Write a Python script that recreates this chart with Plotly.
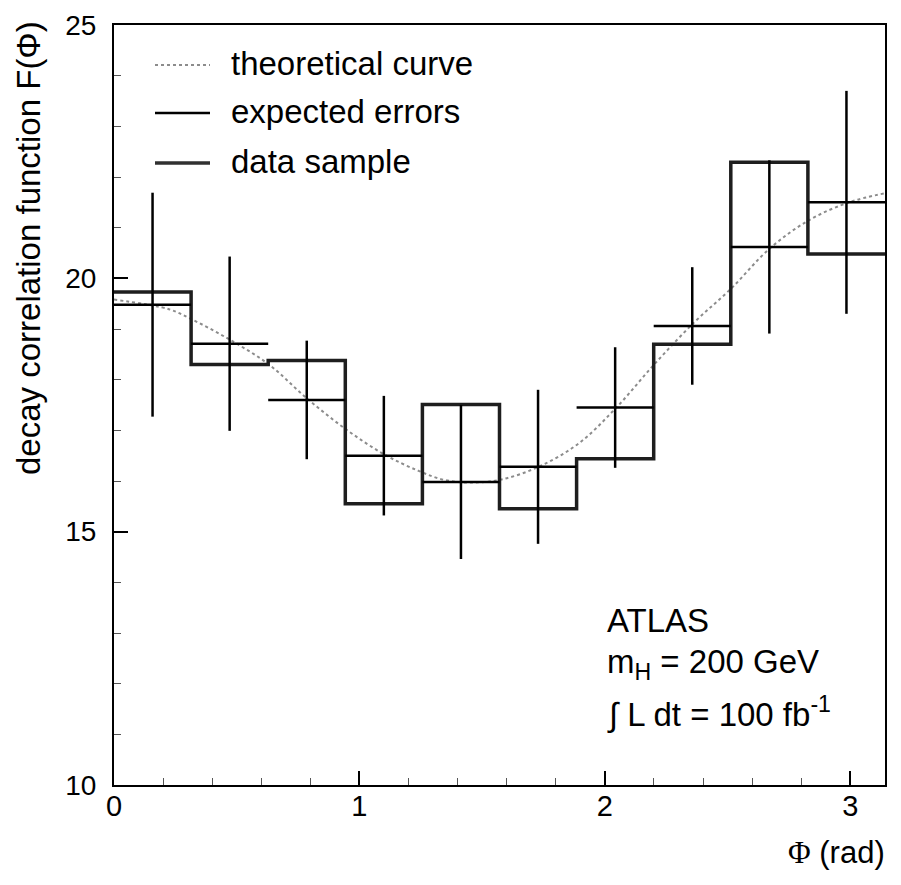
import numpy as np
import plotly.graph_objects as go

# ---------------- data ----------------
n_bins = 10
bin_edges = np.linspace(0, np.pi, n_bins + 1)
bin_centers = 0.5 * (bin_edges[:-1] + bin_edges[1:])
bin_half_width = 0.5 * (bin_edges[1] - bin_edges[0])

# data sample histogram (step)
data_sample = [19.73, 18.30, 18.38, 15.55, 17.51, 15.45, 16.44, 18.70, 22.29, 20.48]

# expected values per bin with expected errors
expected_values = [19.48, 18.71, 17.60, 16.50, 15.98, 16.28, 17.45, 19.06, 20.62, 21.50]
expected_errors = [2.21, 1.72, 1.17, 1.18, 1.52, 1.52, 1.19, 1.16, 1.71, 2.20]

# theoretical curve points
theory_x = [0.0, 0.224, 0.309, 0.468, 0.631, 0.786, 0.948, 1.103, 1.241, 1.347,
            1.457, 1.579, 1.730, 1.893, 2.047, 2.201, 2.364, 2.515, 2.670, 2.829,
            2.995, 3.1416]
theory_y = [19.58, 19.39, 19.21, 18.80, 18.30, 17.63, 17.01, 16.52, 16.20, 16.02,
            15.97, 16.03, 16.28, 16.74, 17.45, 18.30, 19.13, 19.80, 20.58, 21.14,
            21.50, 21.68]

x_ticks = [0, 1, 2, 3]
y_ticks = [10, 15, 20, 25]

legend_labels = ["theoretical curve", "expected errors", "data sample"]

# ---------------- figure ----------------
fig = go.Figure()

fig.add_trace(go.Scatter(
    x=theory_x, y=theory_y, mode="lines",
    line=dict(color="#8c8c8c", width=2, dash="dot", shape="spline", smoothing=1.0),
    name=legend_labels[0], showlegend=False, hoverinfo="skip"))

step_x = list(bin_edges)
step_y = list(data_sample) + [data_sample[-1]]
fig.add_trace(go.Scatter(
    x=step_x, y=step_y, mode="lines",
    line=dict(color="#1e1e1e", width=3.5, shape="hv"),
    name=legend_labels[2], showlegend=False, hoverinfo="skip"))

fig.add_trace(go.Scatter(
    x=list(bin_centers), y=expected_values, mode="markers",
    marker=dict(size=2, color="black"),
    error_x=dict(type="constant", value=bin_half_width, width=0, thickness=2.5, color="black"),
    error_y=dict(type="data", array=expected_errors, width=0, thickness=2.5, color="black"),
    name=legend_labels[1], showlegend=False, hoverinfo="skip"))

# ---------------- layout geometry (window pixels) ----------------
BODY = 8  # default page margin of the html body
WIN_W, WIN_H = 901, 885
PL, PR, PT, PB = 114, 885, 25, 785
W, H = PR - PL, PB - PT

def px_to_paper_x(px):
    return (px - PL) / W

def px_to_paper_y(py):
    return (PB - py) / H

legend_rows = [65, 113, 163]
legend_styles = [
    dict(color="#8c8c8c", width=2, dash="dot"),
    dict(color="black", width=2.5),
    dict(color="#303030", width=3.5),
]
shapes = []
annotations = []
for row, label, sty in zip(legend_rows, legend_labels, legend_styles):
    shapes.append(dict(type="line", xref="paper", yref="paper",
                       x0=px_to_paper_x(155), x1=px_to_paper_x(210),
                       y0=px_to_paper_y(row), y1=px_to_paper_y(row),
                       line=sty))
    annotations.append(dict(xref="paper", yref="paper",
                            x=px_to_paper_x(229), y=px_to_paper_y(row - 2),
                            xanchor="left", yanchor="middle", showarrow=False,
                            text=label, font=dict(size=33, color="black")))

atlas_lines = ["ATLAS", "m<sub>H</sub> = 200 GeV", "∫ L dt = 100 fb<sup>-1</sup>"]
atlas_rows = [620, 664, 712]
for row, txt in zip(atlas_rows, atlas_lines):
    annotations.append(dict(xref="paper", yref="paper",
                            x=px_to_paper_x(605), y=px_to_paper_y(row),
                            xanchor="left", yanchor="middle", showarrow=False,
                            text=txt, font=dict(size=33, color="black")))

annotations.append(dict(xref="paper", yref="paper",
                        x=px_to_paper_x(29), y=px_to_paper_y(248),
                        xanchor="center", yanchor="middle", showarrow=False,
                        textangle=-90, text="decay correlation function F(Φ)",
                        font=dict(size=33, color="black")))
annotations.append(dict(xref="paper", yref="paper",
                        x=px_to_paper_x(887), y=px_to_paper_y(852),
                        xanchor="right", yanchor="middle", showarrow=False,
                        text="<span style=\"font-family:'Liberation Serif'\">Φ</span> (rad)",
                        font=dict(size=31, color="black")))

fig.update_layout(
    width=WIN_W - 2 * BODY, height=WIN_H - 2 * BODY,
    margin=dict(l=PL - BODY, r=WIN_W - BODY - PR, t=PT - BODY, b=WIN_H - BODY - PB,
                pad=0, autoexpand=False),
    paper_bgcolor="white", plot_bgcolor="white",
    font=dict(family="Liberation Sans, Arial, sans-serif", color="black"),
    shapes=shapes, annotations=annotations,
    showlegend=False,
)

fig.update_xaxes(
    range=[0, np.pi], tickvals=x_ticks, ticktext=[str(v) for v in x_ticks],
    showline=True, linecolor="black", linewidth=2, mirror=True,
    ticks="inside", ticklen=14, tickwidth=1.5, tickcolor="black",
    minor=dict(dtick=0.2, ticks="inside", ticklen=7, tickwidth=1, tickcolor="#555"),
    showgrid=False, zeroline=False, ticklabeloverflow="allow", automargin=False,
    ticklabelstandoff=-6,
    tickfont=dict(size=29, color="black"),
)
fig.update_yaxes(
    range=[10, 25], tickvals=y_ticks, ticktext=[str(v) for v in y_ticks],
    showline=True, linecolor="black", linewidth=2, mirror=True,
    ticks="inside", ticklen=14, tickwidth=1.5, tickcolor="black",
    minor=dict(dtick=1, ticks="inside", ticklen=7, tickwidth=1, tickcolor="#555"),
    showgrid=False, zeroline=False, ticklabelstandoff=10, ticklabeloverflow="allow",
    automargin=False,
    tickfont=dict(size=28, color="black"),
)

fig.write_html("out.html")
